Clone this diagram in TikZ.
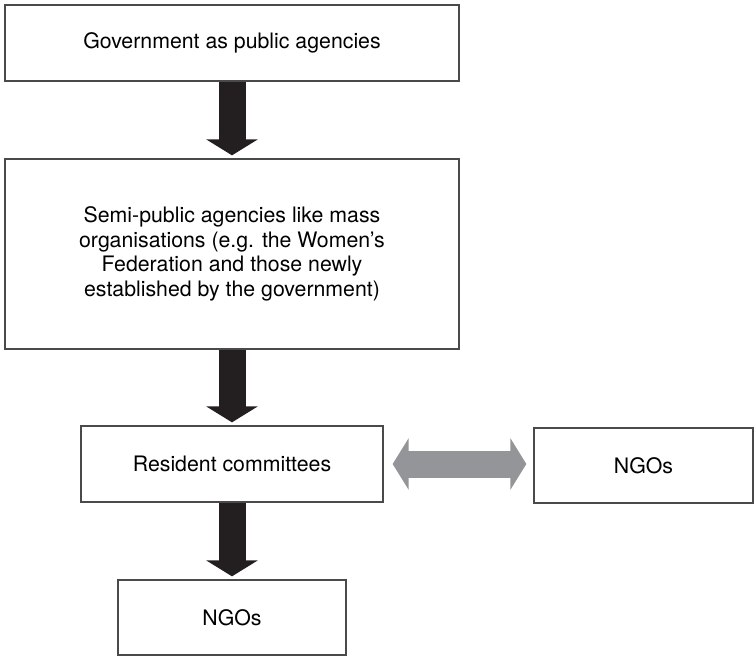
\documentclass[tikz,border=0pt]{standalone}
\usepackage{fontspec}
\setmainfont{TeX Gyre Heros}
\usetikzlibrary{arrows.meta}
\definecolor{boxline}{HTML}{4A4A4A}
\definecolor{flowblack}{HTML}{231F20}
\definecolor{linkgray}{HTML}{939598}
\begin{document}
\begin{tikzpicture}[x=1pt,y=-1pt,
  box/.style={draw=boxline,line width=1.3pt,fill=white,inner sep=0pt,
    font=\fontsize{21.3}{24.5}\selectfont,align=center},
  downflow/.style={draw=flowblack,line width=27pt,
    -{Triangle[width=51pt,length=16pt]},shorten >=3pt},
  sidelink/.style={draw=linkgray,line width=27pt,
    {Triangle[width=51pt,length=16pt]}-{Triangle[width=51pt,length=16pt]},
    shorten <=9pt,shorten >=7pt}]
\useasboundingbox (0,0) rectangle (755,656);

\node[box,minimum width=454pt,minimum height=76pt] (gov) at (232,43)
  {Government as public agencies};
\node[box,minimum width=454pt,minimum height=190pt] (semi) at (232,254)
  {Semi-public agencies like mass\\organisations (e.g. the Women’s\\Federation and those newly\\established by the government)};
\node[box,minimum width=302pt,minimum height=76pt] (res) at (232,464)
  {Resident committees};
\node[box,minimum width=219pt,minimum height=75pt] (ngoside) at (643.5,465.5)
  {NGOs};
\node[box,minimum width=228pt,minimum height=75pt] (ngolow) at (232,617.5)
  {NGOs};

\draw[downflow] (gov.south) -- (semi.north);
\draw[downflow] (semi.south) -- (res.north);
\draw[downflow] (res.south) -- (ngolow.north);
\draw[sidelink] (res.east) -- (res.east -| ngoside.west);
\end{tikzpicture}
\end{document}
